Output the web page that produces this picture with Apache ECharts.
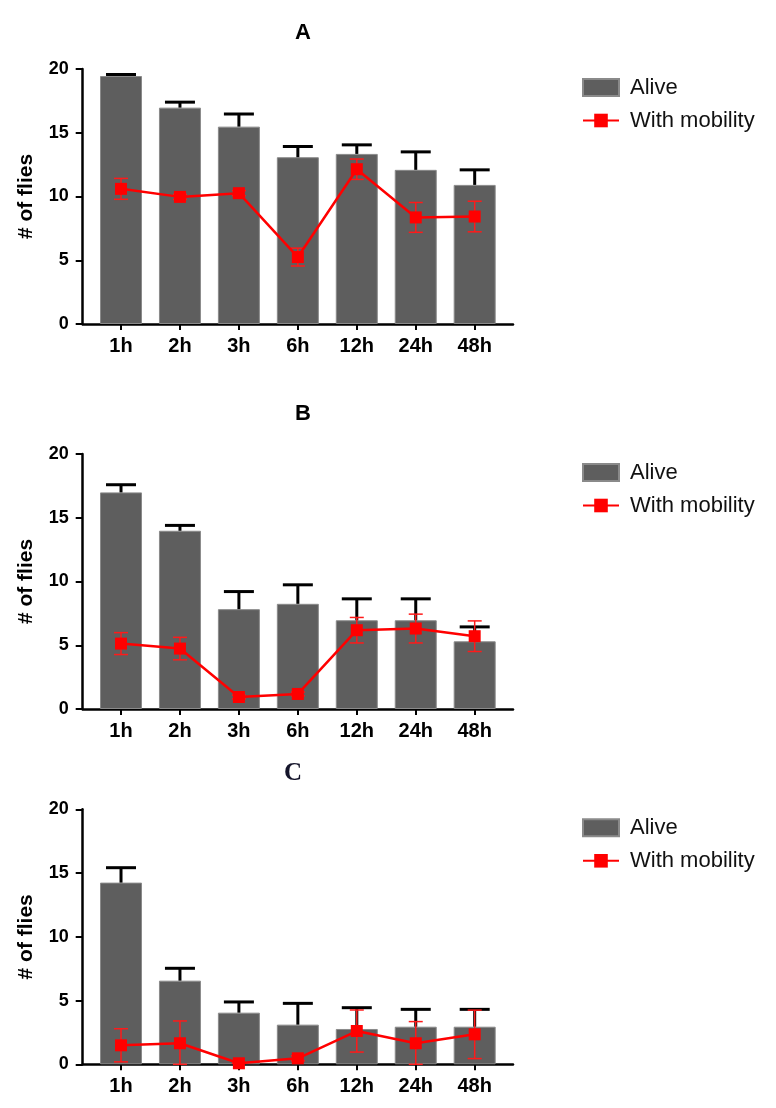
<!DOCTYPE html>
<html>
<head>
<meta charset="utf-8">
<script src="https://cdn.jsdelivr.net/npm/echarts@6/dist/echarts.min.js"></script>
<style>html,body{margin:0;padding:0;background:#fff;}#c{width:776px;height:1108px;}</style>
</head>
<body>
<div id="c"></div>
<script>
const categories = ['1h', '2h', '3h', '6h', '12h', '24h', '48h'];
const panelTitles = ['A', 'B', 'C'];
const yTicks = [0, 5, 10, 15, 20];

const aliveA = [19.45, 16.97, 15.48, 13.08, 13.34, 12.09, 10.91];
const aliveErrA = [0.12, 0.43, 0.99, 0.84, 0.71, 1.41, 1.18];
const mobA = [10.6, 9.97, 10.26, 5.25, 12.14, 8.36, 8.43];
const mobErrA = [0.82, 0.2, 0.2, 0.7, 0.8, 1.17, 1.2];

const aliveB = [16.99, 13.98, 7.83, 8.25, 6.96, 6.96, 5.31];
const aliveErrB = [0.6, 0.42, 1.38, 1.49, 1.68, 1.68, 1.13];
const mobB = [5.13, 4.74, 0.94, 1.18, 6.18, 6.31, 5.71];
const mobErrB = [0.86, 0.88, 0.15, 0.15, 1.0, 1.13, 1.2];

const aliveC = [14.25, 6.56, 4.05, 3.11, 2.77, 2.95, 2.95];
const aliveErrC = [1.17, 0.97, 0.84, 1.67, 1.67, 1.36, 1.36];
const mobC = [1.49, 1.65, 0.08, 0.47, 2.61, 1.65, 2.35];
const mobErrC = [1.3, 1.75, 0, 0.2, 1.65, 1.7, 1.9];

const panels = [
  {alive: aliveA, aliveErr: aliveErrA, mob: mobA, mobErr: mobErrA},
  {alive: aliveB, aliveErr: aliveErrB, mob: mobB, mobErr: mobErrB},
  {alive: aliveC, aliveErr: aliveErrC, mob: mobC, mobErr: mobErrC}
];

const gridTops = [69, 454, 809.3];
const gridH = 255;
const titleTops = [17, 398, 756];
const FONT = 'Liberation Sans, Arial, sans-serif';

function errRenderer(color, width, capHalf, both) {
  return function (params, api) {
    const x = api.value(0);
    const lo = api.coord([x, api.value(1)]);
    const hi = api.coord([x, api.value(2)]);
    const style = {stroke: color, lineWidth: width};
    const children = [
      {type: 'line', shape: {x1: lo[0], y1: lo[1], x2: hi[0], y2: hi[1]}, style: style},
      {type: 'line', shape: {x1: hi[0] - capHalf, y1: hi[1], x2: hi[0] + capHalf, y2: hi[1]}, style: style}
    ];
    if (both) children.push({type: 'line', shape: {x1: lo[0] - capHalf, y1: lo[1], x2: lo[0] + capHalf, y2: lo[1]}, style: style});
    return {type: 'group', children: children};
  };
}

const grids = [], xAxes = [], yAxes = [], series = [], titles = [], legends = [];
panels.forEach((p, i) => {
  grids.push({left: 82.7, right: 263, top: gridTops[i], height: gridH});
  xAxes.push({
    type: 'value', gridIndex: i, min: -0.65, max: 6.65,
    splitLine: {show: false},
    axisLine: {show: true, onZero: false, lineStyle: {color: '#000', width: 2.5}},
    axisTick: {show: true, length: 6, lineStyle: {color: '#000', width: 2}, customValues: categories.map((c, k) => k)},
    axisLabel: {show: true, customValues: categories.map((c, k) => k), formatter: v => categories[Math.round(v)],
      color: '#000', fontWeight: 'bold', fontSize: 20, fontFamily: FONT, margin: 12}
  });
  yAxes.push({
    type: 'value', gridIndex: i, min: 0, max: 20, interval: 5,
    splitLine: {show: false},
    axisLine: {show: true, onZero: false, lineStyle: {color: '#000', width: 2.5}},
    axisTick: {show: true, length: 7, lineStyle: {color: '#000', width: 2}},
    axisLabel: {color: '#000', fontWeight: 'bold', fontSize: 18, fontFamily: FONT, margin: 14},
    name: '# of flies', nameLocation: 'middle', nameGap: 46,
    nameTextStyle: {color: '#000', fontWeight: 'bold', fontSize: 21, fontFamily: FONT}
  });
  series.push({
    name: 'Alive', type: 'bar', xAxisIndex: i, yAxisIndex: i, barWidth: 42,
    itemStyle: {color: '#5e5e5e', borderColor: '#8a8a8a', borderWidth: 1},
    data: p.alive.map((v, k) => [k, v]), z: 2
  });
  series.push({
    type: 'custom', xAxisIndex: i, yAxisIndex: i, z: 3,
    renderItem: errRenderer('#000', 3, 15, false),
    encode: {x: 0, y: [1, 2]},
    data: p.alive.map((v, k) => [k, v, v + p.aliveErr[k]])
  });
  series.push({
    type: 'custom', xAxisIndex: i, yAxisIndex: i, z: 4,
    renderItem: errRenderer('#ff1a1a', 1.5, 7, true),
    encode: {x: 0, y: [1, 2]},
    data: p.mob.map((v, k) => [k, Math.max(0, v - p.mobErr[k]), v + p.mobErr[k]])
  });
  series.push({
    name: 'With mobility', type: 'line', xAxisIndex: i, yAxisIndex: i, z: 5,
    symbol: 'rect', symbolSize: 12,
    itemStyle: {color: '#ff0000'}, lineStyle: {color: '#ff0000', width: 2.5},
    data: p.mob.map((v, k) => [k, v])
  });
  const isC = i === 2;
  titles.push({
    text: panelTitles[i], left: 298 - (isC ? 10 : 0), top: titleTops[i], textAlign: 'center',
    textStyle: {fontSize: isC ? 25 : 22, fontWeight: 'bold',
      fontFamily: isC ? 'Liberation Serif, Times New Roman, serif' : FONT,
      color: isC ? '#14142a' : '#000'}
  });
  legends.push({
    orient: 'vertical', left: 577, top: gridTops[i] + 2.5, itemWidth: 36, itemHeight: 17, itemGap: 11,
    textStyle: {fontSize: 22, fontFamily: FONT, color: '#111', lineHeight: 17, padding: [0, 0, 0, 6]},
    data: [{name: 'Alive', icon: 'rect'}, {name: 'With mobility'}]
  });
});

const chart = echarts.init(document.getElementById('c'), null, {renderer: 'canvas'});
chart.setOption({
  animation: false,
  backgroundColor: '#fff',
  title: titles, legend: legends, grid: grids, xAxis: xAxes, yAxis: yAxes, series: series
});
</script>
</body>
</html>
